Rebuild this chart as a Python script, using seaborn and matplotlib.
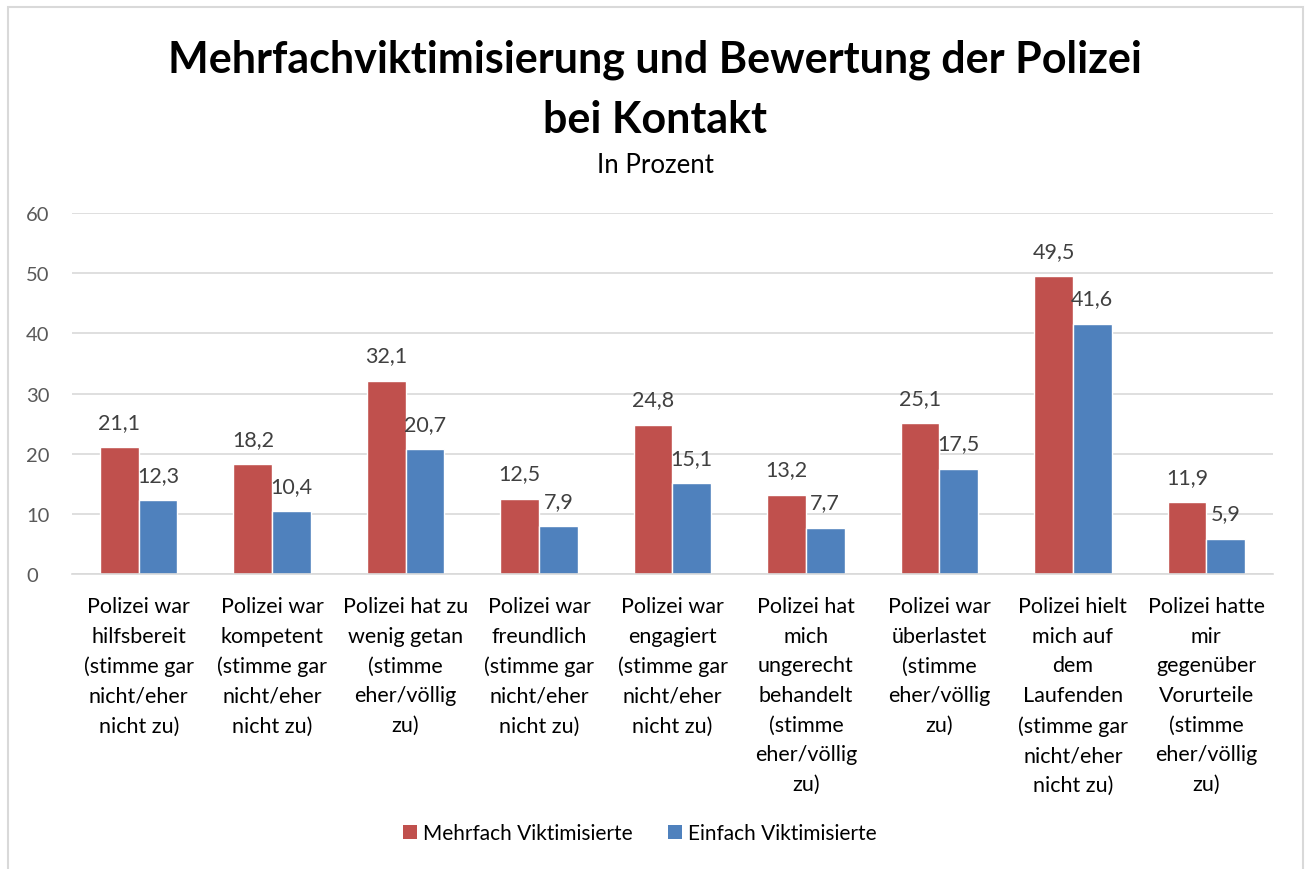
import matplotlib
matplotlib.use("Agg")
import matplotlib.pyplot as plt
from matplotlib.patches import Rectangle, Patch
import seaborn as sns
import pandas as pd

categories = [
    "Polizei war\nhilfsbereit\n(stimme gar\nnicht/eher\nnicht zu)",
    "Polizei war\nkompetent\n(stimme gar\nnicht/eher\nnicht zu)",
    "Polizei hat zu\nwenig getan\n(stimme\neher/völlig\nzu)",
    "Polizei war\nfreundlich\n(stimme gar\nnicht/eher\nnicht zu)",
    "Polizei war\nengagiert\n(stimme gar\nnicht/eher\nnicht zu)",
    "Polizei hat\nmich\nungerecht\nbehandelt\n(stimme\neher/völlig\nzu)",
    "Polizei war\nüberlastet\n(stimme\neher/völlig\nzu)",
    "Polizei hielt\nmich auf\ndem\nLaufenden\n(stimme gar\nnicht/eher\nnicht zu)",
    "Polizei hatte\nmir\ngegenüber\nVorurteile\n(stimme\neher/völlig\nzu)",
]
series_names = ["Mehrfach Viktimisierte", "Einfach Viktimisierte"]
mehrfach = [21.1, 18.2, 32.1, 12.5, 24.8, 13.2, 25.1, 49.5, 11.9]
einfach = [12.3, 10.4, 20.7, 7.9, 15.1, 7.7, 17.5, 41.6, 5.9]
y_ticks = [0, 10, 20, 30, 40, 50, 60]

colors = ["#C0504D", "#4F81BD"]

df = pd.DataFrame({
    "Kategorie": categories * 2,
    "Gruppe": [series_names[0]] * len(categories) + [series_names[1]] * len(categories),
    "Wert": mehrfach + einfach,
})

sns.set_theme(style="white")
plt.rcParams["font.family"] = ["Lato", "DejaVu Sans"]

W, H = 1306, 870
fig = plt.figure(figsize=(W / 100, H / 100), dpi=100)
ax = fig.add_axes([72 / W, 1 - 575 / H, (1273 - 72) / W, (575 - 214) / H])

sns.barplot(data=df, x="Kategorie", y="Wert", hue="Gruppe", palette=colors,
            width=0.58, saturation=1, ax=ax, legend=False)

for container in ax.containers:
    ax.bar_label(container, labels=[f"{v:.1f}".replace(".", ",") for v in container.datavalues],
                 padding=11, fontsize=15.5, color="#404040")

ax.set_ylim(0, 60)
ax.set_yticks(y_ticks)
ax.set_xlim(-0.5, len(categories) - 0.5)
ax.yaxis.grid(True, color="#D9D9D9", linewidth=1.2)
ax.set_axisbelow(True)
for s in ["top", "right", "left"]:
    ax.spines[s].set_visible(False)
ax.spines["bottom"].set_color("#D9D9D9")
ax.spines["bottom"].set_linewidth(1.2)
ax.tick_params(axis="both", length=0)
ax.tick_params(axis="y", labelsize=14.5, labelcolor="#595959", pad=33)
ax.set_xticks(range(len(categories)))
ax.set_xticklabels(categories, fontsize=15.5, color="#000000", linespacing=1.6,
                   ha="center", va="top")
ax.tick_params(axis="x", pad=16)
for lbl in ax.get_yticklabels():
    lbl.set_ha("left")
ax.set_xlabel("")
ax.set_ylabel("")

title_lines = ["Mehrfachviktimisierung und Bewertung der Polizei", "bei Kontakt"]
fig.text(655 / W, 1 - 73 / H, title_lines[0], ha="center", va="baseline",
         fontsize=31, fontweight="bold", color="black")
fig.text(655 / W, 1 - 133 / H, title_lines[1], ha="center", va="baseline",
         fontsize=31, fontweight="bold", color="black")
fig.text(655 / W, 1 - 173 / H, "In Prozent", ha="center", va="baseline",
         fontsize=18.5, color="black")

handles = [Patch(facecolor=c, edgecolor="none") for c in colors]
fig.legend(handles, series_names, loc="center", bbox_to_anchor=(640 / W, 1 - 834 / H),
           ncol=2, frameon=False, fontsize=15, handlelength=0.65, handleheight=0.65,
           handletextpad=0.3, columnspacing=1.7, labelcolor="black")

fig.patches.append(Rectangle((8 / W, -0.05), (1303 - 8) / W, 1.05 - 8 / H,
                             transform=fig.transFigure, fill=False,
                             edgecolor="#D9D9D9", linewidth=1.5))

fig.savefig("out.png", dpi=100, facecolor="white")
